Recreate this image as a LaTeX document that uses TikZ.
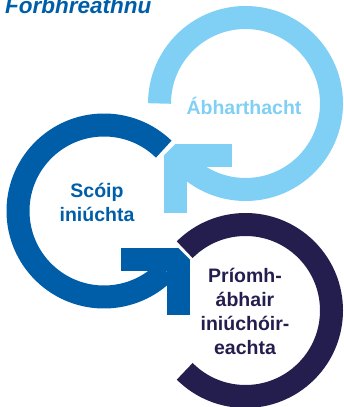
\documentclass[tikz,border=0pt]{standalone}
\usepackage{fontspec}
\setmainfont{Liberation Sans}
\usepackage{xcolor}
\usepackage{tikz}

\definecolor{skyblue}{RGB}{128,207,244}
\definecolor{scopeblue}{RGB}{0,94,168}
\definecolor{navyblue}{RGB}{36,30,78}

\begin{document}
\begin{tikzpicture}[x=1pt, y=1pt, ring/.style={line width=23pt}, head/.style={line width=23pt, line join=bevel}, label/.style={font=\fontsize{19.5}{24}\selectfont\bfseries, align=center, inner sep=0pt}]
\useasboundingbox (0,0) rectangle (344,407);

% Ring centres
\coordinate (mat) at (245.5,303.5);
\coordinate (scp) at (104,196);
\coordinate (prm) at (245.5,96.5);

% Title
\node (title) [anchor=base west, inner sep=0pt, text=scopeblue, font=\fontsize{22.5}{23}\selectfont\bfseries\itshape] at (5,393) {Forbhreathnu};

% Rings
\draw[ring, skyblue] ([shift={(180:86)}]mat) arc[start angle=180, end angle=-134, radius=86];
\draw[ring, scopeblue] ([shift={(46:86)}]scp) arc[start angle=46, end angle=316, radius=86];
\draw[ring, navyblue] ([shift={(135:86)}]prm) arc[start angle=135, end angle=-135, radius=86];

% Arrow heads
\draw[head, skyblue] ([shift={(-13.5,-52.5)}]mat) -- ++(-56.5,0) -- ++(0,-57.5);
\draw[head, scopeblue] ([shift={(17,-48.5)}]scp) -- ++(57.5,0) -- ++(0,-55.5);

% Labels
\node (matlabel) [label, text=skyblue, anchor=base] at (244,292) {Ábharthacht};
\node (scplabel) [label, text=scopeblue] at (97,204.5) {Scóip\\iniúchta};
\node (prmlabel) [label, text=navyblue] at (245,95.5) {Príomh-\\ábhair\\iniúchóir-\\eachta};
\end{tikzpicture}
\end{document}
